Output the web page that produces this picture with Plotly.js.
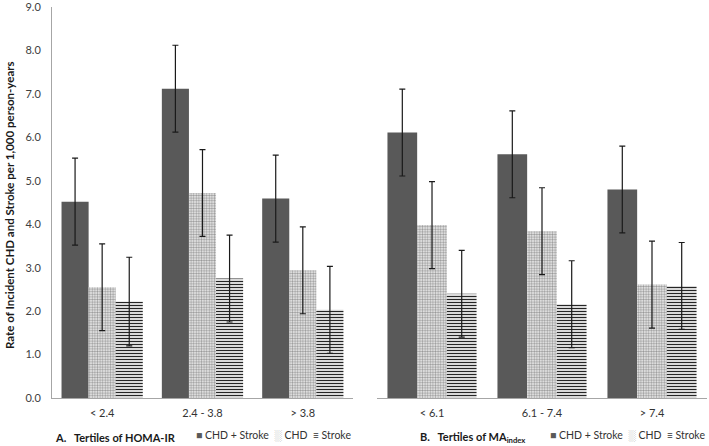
<!DOCTYPE html>
<html>
<head>
<meta charset="utf-8">
<script src="https://cdn.plot.ly/plotly-3.0.1.min.js"></script>
<style>html,body{margin:0;padding:0;background:#fff;}#chart{width:709px;height:446px;}</style>
</head>
<body>
<div id="chart"></div>
<script>
// Categories (tertiles)
var catsA = ['< 2.4', '2.4 - 3.8', '> 3.8'];
var catsB = ['< 6.1', '6.1 - 7.4', '> 7.4'];
var seriesNames = ['CHD + Stroke', 'CHD', 'Stroke'];
var yTicks = [0, 1, 2, 3, 4, 5, 6, 7, 8, 9];
var yTickLabels = ['0.0', '1.0', '2.0', '3.0', '4.0', '5.0', '6.0', '7.0', '8.0', '9.0'];

// Panel A: tertiles of HOMA-IR
var A_both = [4.52, 7.12, 4.59];
var A_chd = [2.55, 4.72, 2.94];
var A_stroke = [2.22, 2.75, 2.03];
var A_both_err = [1.0, 1.0, 1.0];
var A_chd_err = [1.0, 1.0, 1.0];
var A_stroke_err = [1.02, 1.0, 1.0];

// Panel B: tertiles of MA index
var B_both = [6.11, 5.61, 4.80];
var B_chd = [3.98, 3.84, 2.61];
var B_stroke = [2.40, 2.16, 2.58];
var B_both_err = [1.0, 1.0, 1.0];
var B_chd_err = [1.0, 1.0, 1.0];
var B_stroke_err = [1.0, 1.0, 1.0];

var FONT = 'Lato, "Liberation Sans", sans-serif';
var errStyle = function (arr) {
  return {type: 'data', array: arr, visible: true, color: '#1a1a1a', thickness: 1.2, width: 3};
};
var styles = [
  {color: '#595959', line: {width: 0}},
  {color: '#ffffff', line: {width: 0}, pattern: {shape: '.', fgcolor: '#9a9a9a', bgcolor: '#f4f4f4', size: 2.6, solidity: 0.5}},
  {color: '#ffffff', line: {width: 0}, pattern: {shape: '-', fgcolor: '#262626', bgcolor: '#ffffff', size: 3, solidity: 0.45}}
];

function mk(x, y, err, i, xa, ya) {
  return {
    type: 'bar', x: x, y: y, name: seriesNames[i], xaxis: xa, yaxis: ya,
    marker: styles[i], error_y: errStyle(err), showlegend: false,
    hovertemplate: '%{x}: %{y:.2f}<extra>' + seriesNames[i] + '</extra>'
  };
}

var data = [
  mk(catsA, A_both, A_both_err, 0, 'x', 'y'),
  mk(catsA, A_chd, A_chd_err, 1, 'x', 'y'),
  mk(catsA, A_stroke, A_stroke_err, 2, 'x', 'y'),
  mk(catsB, B_both, B_both_err, 0, 'x2', 'y2'),
  mk(catsB, B_chd, B_chd_err, 1, 'x2', 'y2'),
  mk(catsB, B_stroke, B_stroke_err, 2, 'x2', 'y2')
];

// pixel helpers relative to plot area (l=52, width 655, t=7, height 391)
function px(p) { return (p - 52) / 655; }
function py(p) { return (398 - p) / 391; }

var legendText = '<span style="color:#595959">■</span> CHD + Stroke  <span style="color:#8c8c8c">░</span> CHD  ≡ Stroke';

var layout = {
  width: 709, height: 446,
  margin: {l: 52, r: 2, t: 7, b: 48},
  paper_bgcolor: '#ffffff', plot_bgcolor: '#ffffff',
  font: {family: FONT, size: 11, color: '#404040'},
  barmode: 'group', bargap: 0.19, bargroupgap: 0,
  showlegend: false,
  xaxis: {domain: [0, 0.4595], anchor: 'y', showline: true, linecolor: '#a6a6a6', linewidth: 1,
          ticks: '', showgrid: false, zeroline: false, ticklabelstandoff: 5, tickfont: {size: 11, color: '#333'}},
  xaxis2: {domain: [0.4962, 1], anchor: 'y2', showline: true, linecolor: '#a6a6a6', linewidth: 1,
           ticks: '', showgrid: false, zeroline: false, ticklabelstandoff: 5, tickfont: {size: 11, color: '#333'}},
  yaxis: {range: [0, 9.001], tickmode: 'array', tickvals: yTicks, ticktext: yTickLabels,
          showline: true, linecolor: '#a6a6a6', linewidth: 1, ticklabeloverflow: 'allow',
          ticks: '', showgrid: false, zeroline: false, ticklabelstandoff: 8, tickfont: {size: 11, color: '#404040'}},
  yaxis2: {range: [0, 9.001], anchor: 'x2', showline: false, showticklabels: false,
           ticks: '', showgrid: false, zeroline: false},
  annotations: [
    {xref: 'paper', yref: 'paper', x: px(9), y: py(205), text: '<b>Rate of Incident CHD and Stroke per 1,000 person-years</b>',
     textangle: -90, showarrow: false, xanchor: 'center', yanchor: 'middle', font: {size: 11.5, color: '#1a1a1a'}},
    {xref: 'paper', yref: 'paper', x: px(53), y: py(437), text: '<b>A.   Tertiles of HOMA-IR</b>',
     showarrow: false, xanchor: 'left', yanchor: 'middle', font: {size: 11, color: '#1a1a1a'}},
    {xref: 'paper', yref: 'paper', x: px(418), y: py(437), text: '<b>B.   Tertiles of MA<sub>index</sub></b>',
     showarrow: false, xanchor: 'left', yanchor: 'middle', font: {size: 11, color: '#1a1a1a'}},
    {xref: 'paper', yref: 'paper', x: px(353), y: py(435), text: legendText,
     showarrow: false, xanchor: 'right', yanchor: 'middle', font: {size: 10.5, color: '#333'}},
    {xref: 'paper', yref: 'paper', x: px(707), y: py(435), text: legendText,
     showarrow: false, xanchor: 'right', yanchor: 'middle', font: {size: 10.5, color: '#333'}}
  ]
};

Plotly.newPlot('chart', data, layout, {displayModeBar: false, staticPlot: true});
</script>
</body>
</html>
